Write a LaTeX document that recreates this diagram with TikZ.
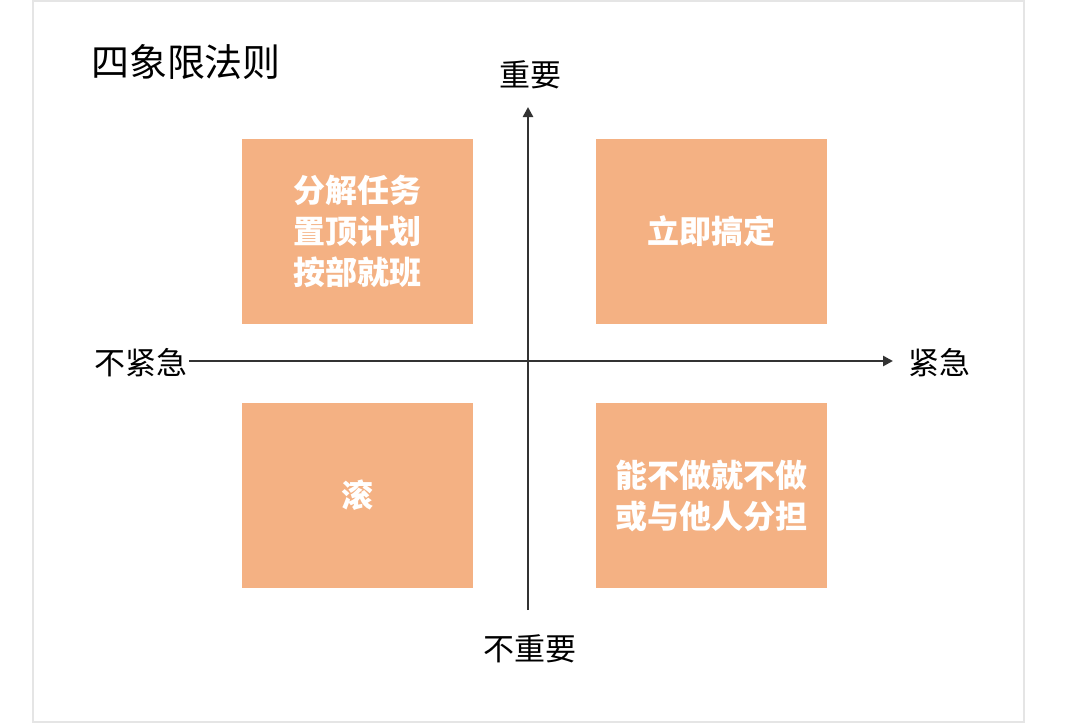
\documentclass[tikz,border=0pt]{standalone}
\usepackage{fontspec}
\setmainfont{Noto Sans CJK SC}
\usetikzlibrary{arrows.meta}
\definecolor{quadfill}{HTML}{F4B183}
\definecolor{axisgray}{HTML}{333333}
\tikzset{
  quad/.style={fill=quadfill, minimum width=231pt, minimum height=185pt, inner sep=0pt,
    text=white, align=center, font=\bfseries\fontsize{32}{41}\selectfont},
  axislabel/.style={inner sep=1pt, font=\fontsize{31}{36}\selectfont},
  axis/.style={axisgray, line width=2.8pt, -{Triangle[length=10pt,width=10pt]}}
}
\begin{document}
\begin{tikzpicture}[x=1pt,y=-1pt]
  \useasboundingbox (0,0) rectangle (1080,724);
  \draw[gray!20, line width=1.5pt] (33,0.8) rectangle (1024,722);
  % title
  \node[font=\fontsize{38}{44}\selectfont] (title) at (186,62) {四象限法则};
  % quadrants
  \node[quad] (q2) at (357,231.5) {分解任务\\置顶计划\\按部就班};
  \node[quad] (q1) at (711.5,231.5) {立即搞定};
  \node[quad] (q3) at (357,495.5) {滚};
  \node[quad] (q4) at (711.5,495.5) {能不做就不做\\或与他人分担};
  % axes
  \node[axislabel] (imp) at (530,75) {重要};
  \node[axislabel] (unimp) at (530,649) {不重要};
  \node[axislabel, anchor=east] (nonurg) at (189,363) {不紧急};
  \node[axislabel] (urg) at (939,363) {紧急};
  \coordinate (vbot) at (528,610);
  \coordinate (vtop) at (528,107);
  \coordinate (hend) at (893,361);
  \draw[axis] (vbot) -- (vtop);
  \draw[axis] (nonurg.east |- hend) -- (hend);
\end{tikzpicture}
\end{document}
